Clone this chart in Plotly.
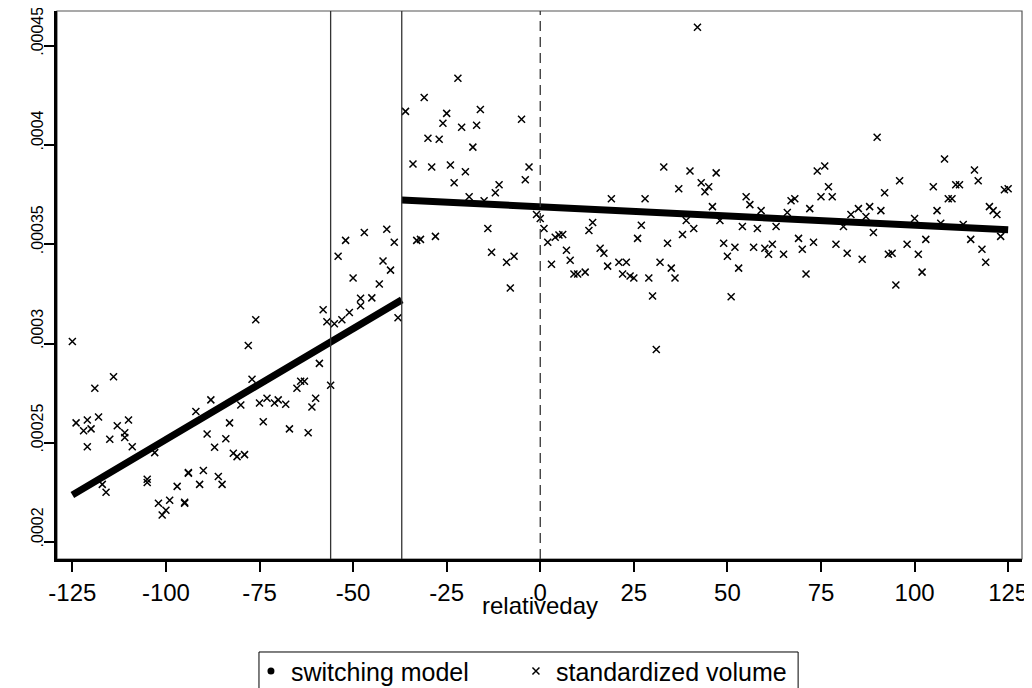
import plotly.graph_objects as go

# ---- data ----
x_tick_vals = [-125, -100, -75, -50, -25, 0, 25, 50, 75, 100, 125]
y_tick_vals = [0.0002, 0.00025, 0.0003, 0.00035, 0.0004, 0.00045]
y_tick_text = [".0002", ".00025", ".0003", ".00035", ".0004", ".00045"]

break_days = [-56, -37]
event_day = [0]

# switching model: fitted values at segment ends (before / after the switch)
model_pre_days = [-125, -37]
model_pre_vals = [0.0002237, 0.0003220]
model_post_days = [-37, 125]
model_post_vals = [0.0003724, 0.0003573]

# standardized volume observations (relative day, value in units of 1e-4)
vol_days = [
    -125, -124, -122, -121, -121, -120, -119, -118, -117, -116, -115, -114, -113,
    -111, -111, -110, -109, -105, -105, -103, -102, -101, -100, -99, -97, -95, -95,
    -94, -94, -92, -91, -90, -89, -88, -87, -86, -85, -84, -83, -82, -81, -80, -79,
    -78, -77, -76, -75, -74, -73, -71, -70, -68, -67, -65, -64, -63, -62, -61, -60,
    -59, -58, -57, -56, -55, -54, -53, -52, -51, -50, -48, -48, -47, -45, -43, -42,
    -41, -40, -39, -38,
    -36, -34, -33, -32, -31, -30, -29, -28, -27, -26, -25, -24, -23, -22, -21, -20,
    -19, -18, -17, -16, -15, -14, -13, -12, -11, -9, -8, -7, -5, -4, -3, -1, 0, 1,
    2, 3, 4, 5, 6, 7, 8, 9, 10, 12, 13, 14, 16, 17, 18, 19, 21, 22, 23, 24, 25, 26,
    27, 28, 29, 30, 31, 32, 33, 34, 35, 36, 37, 38, 39, 40, 41, 42, 43, 44, 45, 46,
    47, 48, 49, 50, 51, 52, 53, 54, 55, 56, 57, 58, 59, 60, 61, 62, 63, 65, 66, 67,
    68, 69, 70, 71, 72, 73, 74, 75, 76, 77, 78, 79, 81, 82, 83, 85, 86, 87, 88, 89,
    90, 91, 92, 93, 94, 95, 96, 98, 100, 101, 102, 103, 105, 106, 107, 108, 109,
    110, 111, 112, 113, 115, 116, 117, 118, 119, 120, 121, 122, 123, 124, 125,
]
vol_e4 = [
    3.01, 2.60, 2.56, 2.615, 2.48, 2.57, 2.775, 2.63, 2.29, 2.25, 2.518, 2.833, 2.586,
    2.55, 2.526, 2.615, 2.48, 2.316, 2.30, 2.45, 2.195, 2.136, 2.16, 2.21, 2.28, 2.195, 2.20,
    2.35, 2.346, 2.657, 2.29, 2.36, 2.544, 2.716, 2.477, 2.33, 2.29, 2.52, 2.60, 2.447, 2.43, 2.69, 2.44,
    2.99, 2.82, 3.12, 2.70, 2.606, 2.724, 2.70, 2.716, 2.694, 2.57, 2.775, 2.81, 2.81, 2.55, 2.68, 2.724,
    2.90, 3.17, 3.11, 2.79, 3.10, 3.44, 3.12, 3.52, 3.156, 3.33, 3.19, 3.228, 3.56, 3.23, 3.30, 3.416,
    3.576, 3.37, 3.51, 3.13,
    4.17, 3.905, 3.52, 3.525, 4.24, 4.035, 3.89, 3.54, 4.03, 4.11, 4.16, 3.90, 3.81, 4.337, 4.09, 3.866,
    3.74, 3.99, 4.10, 4.18, 3.72, 3.58, 3.46, 3.76, 3.80, 3.41, 3.28, 3.44, 4.13, 3.825, 3.89, 3.65, 3.63, 3.58,
    3.51, 3.40, 3.536, 3.547, 3.55, 3.47, 3.42, 3.35, 3.35, 3.36, 3.57, 3.61, 3.48, 3.455, 3.39, 3.73, 3.41, 3.35, 3.41, 3.34, 3.33, 3.53,
    3.596, 3.73, 3.33, 3.24, 2.97, 3.41, 3.89, 3.505, 3.38, 3.33, 3.78, 3.55, 3.62, 3.87, 3.58, 4.594, 3.81, 3.765, 3.79, 3.69,
    3.86, 3.62, 3.505, 3.44, 3.236, 3.485, 3.38, 3.59, 3.74, 3.70, 3.485, 3.58, 3.67, 3.48, 3.45, 3.50, 3.59, 3.45, 3.66, 3.72,
    3.73, 3.53, 3.475, 3.35, 3.68, 3.51, 3.87, 3.74, 3.895, 3.79, 3.74, 3.50, 3.59, 3.455, 3.65, 3.68, 3.425, 3.64, 3.69, 3.56,
    4.04, 3.67, 3.76, 3.45, 3.455, 3.295, 3.82, 3.50, 3.63, 3.45, 3.36, 3.525, 3.79, 3.67, 3.606, 3.93, 3.73,
    3.73, 3.80, 3.80, 3.60, 3.525, 3.875, 3.82, 3.475, 3.41, 3.69, 3.67, 3.65, 3.54, 3.775, 3.78,
]
vol_vals = [v * 1e-4 for v in vol_e4]

FONT = "Liberation Sans, Arial, sans-serif"

fig = go.Figure()

# switching model (thick fitted segments)
fig.add_trace(go.Scatter(x=model_pre_days, y=model_pre_vals, mode="lines",
                         line=dict(color="black", width=7), showlegend=False,
                         hoverinfo="skip"))
fig.add_trace(go.Scatter(x=model_post_days, y=model_post_vals, mode="lines",
                         line=dict(color="black", width=7), showlegend=False,
                         hoverinfo="skip"))
# legend entry for switching model (dot symbol as in the original)
fig.add_trace(go.Scatter(x=[None], y=[None], mode="markers", name="switching model",
                         marker=dict(symbol="circle", size=7, color="black"),
                         legend="legend"))

# standardized volume
fig.add_trace(go.Scatter(x=vol_days, y=vol_vals, mode="markers",
                         name="standardized volume", legend="legend2",
                         marker=dict(symbol="x-thin", size=7, color="black",
                                     line=dict(color="black", width=1.5))))

shapes = []
for d in break_days:
    shapes.append(dict(type="line", xref="x", yref="paper", x0=d, x1=d, y0=0, y1=1,
                       line=dict(color="#333333", width=1.3)))
for d in event_day:
    shapes.append(dict(type="line", xref="x", yref="paper", x0=d, x1=d, y0=0, y1=1,
                       line=dict(color="#333333", width=1.3, dash="10px,6px")))
# thin frame on top / right
shapes.append(dict(type="rect", xref="paper", yref="paper", x0=0, x1=1, y0=0, y1=1,
                   line=dict(color="#555555", width=1.2), layer="below"))
# legend frame enclosing both legend entries
shapes.append(dict(type="rect", xref="paper", yref="paper", x0=0.2093, x1=0.768,
                   y0=-0.26, y1=-0.1697, line=dict(color="black", width=1),
                   fillcolor="rgba(0,0,0,0)"))

legend_common = dict(orientation="h", yanchor="top", y=-0.163, xanchor="left",
                     bgcolor="rgba(0,0,0,0)", borderwidth=0,
                     font=dict(family=FONT, size=25, color="black"),
                     itemsizing="trace")

# the page body adds an 8px offset, so the figure is sized 8px smaller
fig.update_layout(
    width=1024, height=680,
    margin=dict(l=49, r=10, t=3, b=129, autoexpand=False),
    plot_bgcolor="white", paper_bgcolor="white",
    font=dict(family=FONT, size=24, color="black"),
    shapes=shapes,
    showlegend=True,
    legend=dict(x=0.201, **legend_common),
    legend2=dict(x=0.4756, **legend_common),
    annotations=[dict(text="relativeday", xref="paper", yref="paper", x=0.5, y=-0.085,
                      xanchor="center", yanchor="middle", showarrow=False,
                      font=dict(family=FONT, size=24, color="black"))],
)

fig.update_xaxes(range=[-129.1, 128.7], tickvals=x_tick_vals,
                 ticktext=[str(v) for v in x_tick_vals],
                 tickfont=dict(family=FONT, size=24),
                 ticks="outside", ticklen=10, tickwidth=2, tickcolor="black",
                 showline=True, linewidth=3, linecolor="black",
                 showgrid=False, zeroline=False, automargin=False)
fig.update_yaxes(range=[1.914e-4, 4.676e-4], tickvals=y_tick_vals, ticktext=y_tick_text,
                 tickfont=dict(family=FONT, size=16),
                 tickangle=-90, ticklabelposition="outside top",
                 ticklabeloverflow="allow", ticklabelstandoff=5,
                 ticks="outside", ticklen=10, tickwidth=2, tickcolor="black",
                 showline=True, linewidth=3, linecolor="black",
                 showgrid=False, zeroline=False, automargin=False)

fig.write_html("out.html")
